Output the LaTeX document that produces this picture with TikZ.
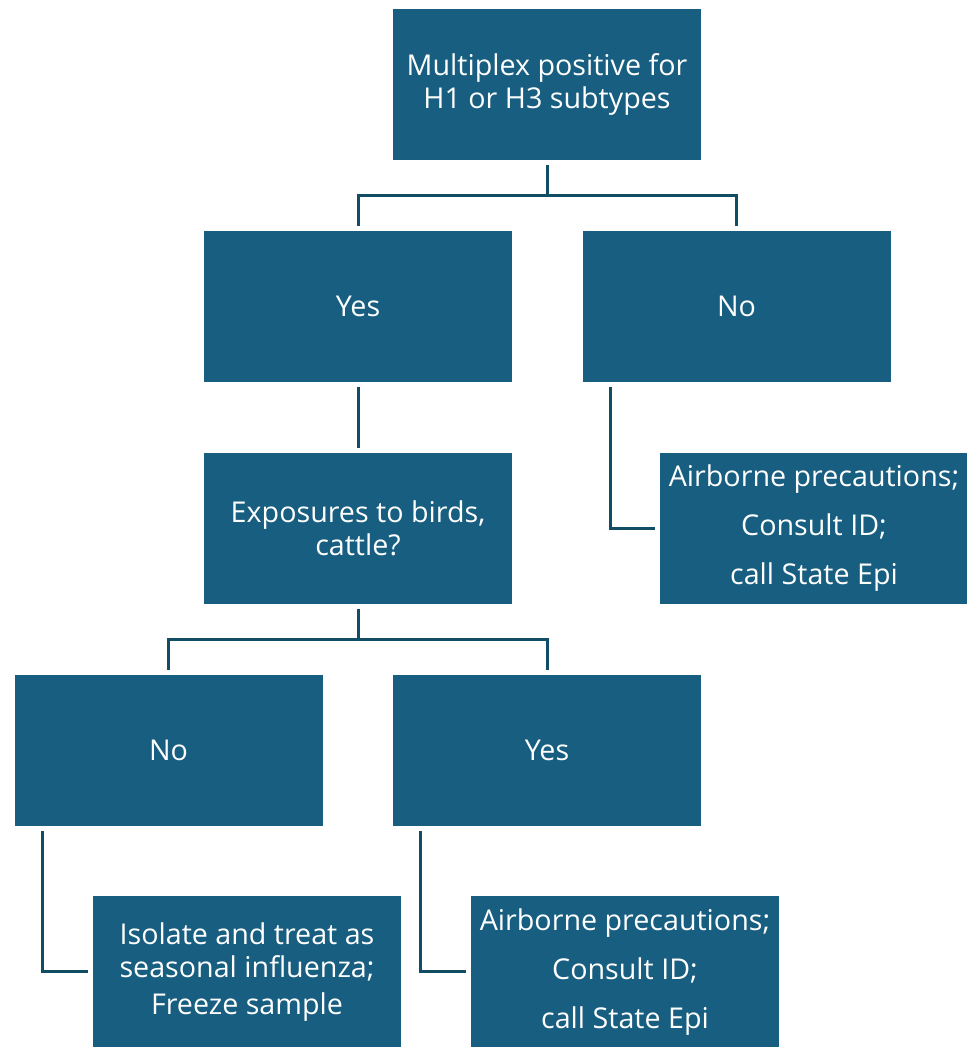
\documentclass[tikz,border=0pt]{standalone}
\usepackage{fontspec}
\setmainfont{Open Sans}
\usetikzlibrary{positioning}
\definecolor{flowbox}{RGB}{23,94,128}
\definecolor{flowline}{RGB}{18,77,102}

\begin{document}
\begin{tikzpicture}[
  x=0.75pt, y=0.75pt,
  step box/.style={rectangle, fill=flowbox, text=white, minimum width=231pt,
                   minimum height=113.25pt, inner sep=0pt, align=center,
                   font=\fontsize{21.5pt}{25pt}\selectfont},
  link/.style={flowline, line width=2.25pt, shorten <=3.75pt, shorten >=3.75pt},
]
  \useasboundingbox (0,0) rectangle (967,1047);

  % -- boxes --
  \node[step box] (top)  at (547, 962.5) {Multiplex positive for\\H1 or H3 subtypes};
  \node[step box] (yes1) at (358, 740.5) {Yes};
  \node[step box] (no1)  at (736.5, 740.5) {No};
  \node[step box] (expo) at (358, 518.5) {Exposures to birds,\\cattle?};
  \node[step box] (air1) at (814, 518.5) {Airborne precautions;\\[11.75pt]Consult ID;\\[11.75pt]call State Epi};
  \node[step box] (no2)  at (168.5, 296.5) {No};
  \node[step box] (yes2) at (547, 296.5) {Yes};
  \node[step box] (iso)  at (247, 75) {Isolate and treat as\\seasonal influenza;\\[3pt]Freeze sample};
  \node[step box] (air2) at (625, 75) {Airborne precautions;\\[11.75pt]Consult ID;\\[11.75pt]call State Epi};

  % -- connectors --
  \draw[link] (top.south) -- ++(0,-35) -| (yes1.north);
  \draw[link] (top.south) -- ++(0,-35) -| (no1.north);
  \draw[link] (yes1) -- (expo);
  \draw[link] ([xshift=21pt]no1.south west) |- (air1.west);
  \draw[link] (expo.south) -- ++(0,-35) -| (no2.north);
  \draw[link] (expo.south) -- ++(0,-35) -| (yes2.north);
  \draw[link] ([xshift=21pt]no2.south west) |- (iso.west);
  \draw[link] ([xshift=21pt]yes2.south west) |- (air2.west);
\end{tikzpicture}
\end{document}
